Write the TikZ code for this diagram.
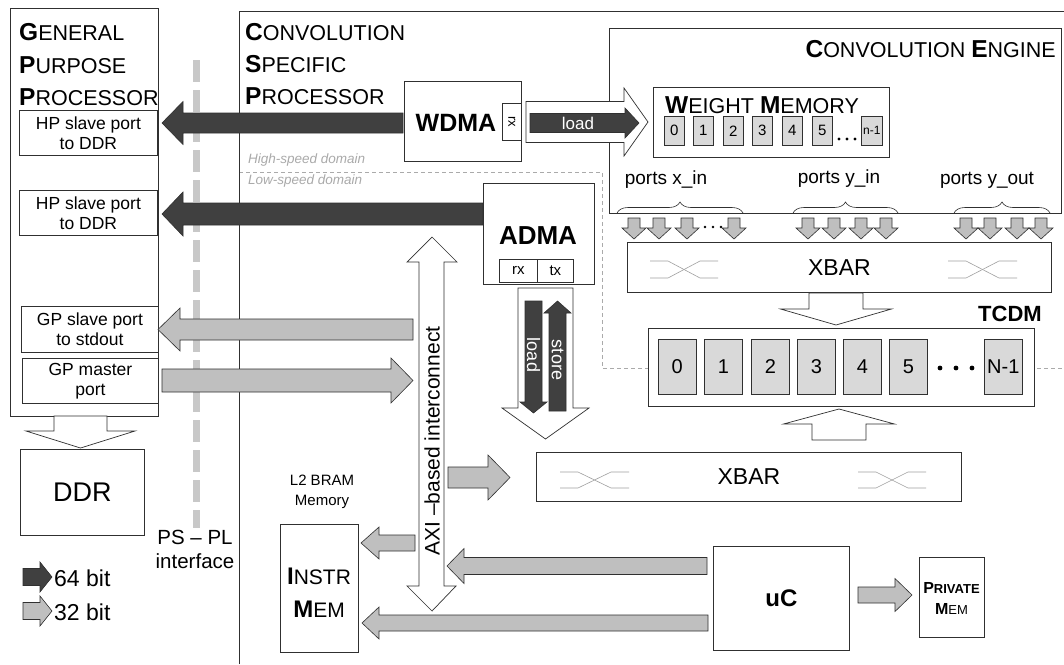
\documentclass[tikz,border=0pt]{standalone}
\usepackage{fontspec}
\setmainfont{Liberation Sans}
\usetikzlibrary{calc,decorations.pathreplacing}
\definecolor{darkf}{HTML}{404040}
\definecolor{lightf}{HTML}{BFBFBF}
\definecolor{cellf}{HTML}{D9D9D9}
\definecolor{edge}{HTML}{303030}
\definecolor{dashc}{HTML}{C8C8C8}
\definecolor{domc}{HTML}{AAAAAA}
\definecolor{crossc}{HTML}{A0A0A0}
\newcommand\fs[2]{\fontsize{#1}{#2}\selectfont}
\newcommand\bsm[4]{{\fs{#3}{#3}\bfseries #1}{\fs{#4}{#4}#2}}
\newcommand\ttl[2]{\bsm{#1}{#2}{24.5}{21.5}}
% block arrow: style, from, to, shaft half width, head half width, head length
\newcommand\blockarrow[6]{%
  \coordinate (hb) at ($(#3)!#6pt!(#2)$);
  \filldraw[#1] ($(#2)!#4pt!90:(#3)$) -- ($(hb)!#4pt!90:(#3)$) -- ($(hb)!#5pt!90:(#3)$) -- (#3)
     -- ($(hb)!#5pt!-90:(#3)$) -- ($(hb)!#4pt!-90:(#3)$) -- ($(#2)!#4pt!-90:(#3)$) -- cycle;}
\newcommand\xcr[4]{%
  \draw[xcross] (#1,#3) -- ++(18,0) -- (#2-18,#4) -- (#2,#4);
  \draw[xcross] (#1,#4) -- ++(18,0) -- (#2-18,#3) -- (#2,#3);}
\tikzset{
  box/.style={draw=edge, line width=0.8pt, fill=white, rectangle, inner sep=0pt, anchor=north west, align=center},
  cell/.style={draw=edge, line width=0.6pt, fill=cellf, rectangle, inner sep=0pt, anchor=north west},
  darkarrow/.style={fill=darkf, draw=edge, line width=0.6pt},
  lightarrow/.style={fill=lightf, draw=edge, line width=0.6pt},
  hollowarrow/.style={fill=white, draw=edge, line width=0.7pt},
  txt/.style={inner sep=0pt, align=center},
  xcross/.style={draw=crossc, line width=0.6pt},
  domline/.style={draw=domc, line width=0.6pt, dash pattern=on 4pt off 3pt},
  domtxt/.style={inner sep=0pt, anchor=west, text=domc, font=\itshape\fs{13.5}{14}},
}
\begin{document}
\begin{tikzpicture}[x=1pt,y=-1pt]
\useasboundingbox (0,0) rectangle (1064,664);
\fill[white] (0,0) rectangle (1064,664);

% PS-PL interface dashed line
\draw[dashc, line width=7pt, dash pattern=on 22pt off 8pt] (196,60) -- (196,528);

% domain dashed line
\draw[domline] (239,172) -- (602,172) -- (602,368) -- (1064,368);
\node[domtxt] (hs) at (248,160) {High-speed domain};
\node[domtxt] (ls) at (248,181) {Low-speed domain};

% Convolution specific processor frame
\draw[draw=edge, line width=0.8pt] (239,664) -- (239,11) -- (1064,11);
\node[txt, anchor=west] (c1) at (245,32) {\ttl{C}{ONVOLUTION}};
\node[txt, anchor=west] (c2) at (245,64) {\ttl{S}{PECIFIC}};
\node[txt, anchor=west] (c3) at (245,96) {\ttl{P}{ROCESSOR}};

% General purpose processor
\node[box, minimum width=148pt, minimum height=408pt] (gpp) at (10,8) {};
\node[txt, anchor=west] (g1) at (19,32) {\ttl{G}{ENERAL}};
\node[txt, anchor=west] (g2) at (19,65) {\ttl{P}{URPOSE}};
\node[txt, anchor=west] (g3) at (19,97) {\ttl{P}{ROCESSOR}};
\node[box, minimum width=138pt, minimum height=45pt, font=\fs{17.5}{20}] (hp1) at (19,110) {HP slave port\\to DDR};
\node[box, minimum width=138pt, minimum height=45pt, font=\fs{17.5}{20}] (hp2) at (19,190) {HP slave port\\to DDR};
\node[box, minimum width=137pt, minimum height=46pt, font=\fs{17.5}{20}] (gps) at (21,306) {GP slave port\\to stdout};
\node[box, minimum width=136pt, minimum height=45pt, font=\fs{17.5}{20}] (gpm) at (22,358) {GP master\\port};
\node[box, minimum width=124pt, minimum height=86pt, font=\fs{27}{27}] (ddr) at (20,449) {DDR};

% PS-PL text and legend
\node[txt, font=\fs{20.5}{24}] (pspl) at (195,549) {PS -- PL\\interface};
\coordinate (l1a) at (23,577); \coordinate (l1b) at (52,577);
\blockarrow{darkarrow}{l1a}{l1b}{8.5}{15}{12}
\coordinate (l2a) at (23,611); \coordinate (l2b) at (52,611);
\blockarrow{lightarrow}{l2a}{l2b}{8.5}{15}{12}
\node[txt, anchor=west, font=\fs{23}{23}] (t64) at (54,578) {64 bit};
\node[txt, anchor=west, font=\fs{23}{23}] (t32) at (54,612) {32 bit};

% Convolution engine
\node[box, minimum width=452pt, minimum height=185pt] (ce) at (609,28) {};
\node[txt, anchor=east] (cet) at (1056,49) {\ttl{C}{ONVOLUTION }\ttl{E}{NGINE}};
\node[box, minimum width=236pt, minimum height=70pt] (wm) at (653,87) {};
\node[txt, anchor=west] (wmt) at (665,105) {\ttl{W}{EIGHT }\ttl{M}{EMORY}};
\foreach \i/\x in {0/664,1/693,2/723,3/752,4/782,5/812}
  \node[cell, minimum width=20pt, minimum height=29pt, font=\fs{15}{15}] (w\i) at (\x,116) {\i};
\node[cell, minimum width=21pt, minimum height=29pt, font=\fs{12}{12}] (wn) at (861,116) {n-1};
\foreach \x in {839,847,855} \fill[black] (\x,139) circle (1.7pt);
\node[txt, font=\fs{19}{19}] (px) at (666,180) {ports x\_in};
\node[txt, font=\fs{19}{19}] (py) at (839,179) {ports y\_in};
\node[txt, font=\fs{19}{19}] (po) at (987,180) {ports y\_out};
\draw[edge, line width=0.6pt, decorate, decoration={brace, amplitude=11pt}] (617,213) -- (743,213);
\draw[edge, line width=0.6pt, decorate, decoration={brace, amplitude=11pt}] (793,213) -- (898,213);
\draw[edge, line width=0.6pt, decorate, decoration={brace, amplitude=11pt}] (954,213) -- (1050,213);

% XBAR top
\node[box, minimum width=424pt, minimum height=50pt, font=\fs{23}{23}] (xb1) at (627,242) {XBAR};
\xcr{650}{718}{261}{278}
\xcr{948}{1017}{261}{278}
\foreach \x in {634,659,687,734,808,834,861,886,966,990,1017,1041} {
  \coordinate (pa) at (\x,218); \coordinate (pb) at (\x,239);
  \blockarrow{lightarrow}{pa}{pb}{6}{12}{11}
}
\foreach \x in {705,713,721} \fill[black] (\x,227) circle (1.4pt);

% TCDM
\node[txt, font=\bfseries\fs{22}{22}] (tcdmt) at (1010,314) {TCDM};
\node[box, minimum width=386pt, minimum height=78pt] (tcdm) at (648,328) {};
\foreach \i/\x in {0/658,1/704,2/751,3/797,4/843,5/889}
  \node[cell, minimum width=38pt, minimum height=55pt, font=\fs{20}{20}] (t\i) at (\x,339) {\i};
\node[cell, minimum width=38pt, minimum height=55pt, font=\fs{20}{20}] (tn) at (984,339) {N-1};
\foreach \x in {940,956,972} \fill[black] (\x,368) circle (2.4pt);
\coordinate (xa) at (836,293); \coordinate (xbb) at (836,325);
\blockarrow{hollowarrow}{xa}{xbb}{27}{55.5}{16}

% XBAR bottom
\node[box, minimum width=425pt, minimum height=49pt, font=\fs{23}{23}] (xb2) at (536,452) {XBAR};
\xcr{560}{629}{472}{488}
\xcr{858}{926}{472}{488}
\coordinate (ua) at (839,440); \coordinate (ub) at (839,409);
\blockarrow{hollowarrow}{ua}{ub}{27}{55.5}{15}

% WDMA
\node[box, minimum width=117pt, minimum height=80pt] (wdma) at (404,81) {};
\node[txt, font=\bfseries\fs{25}{25}] (wdmat) at (456,123) {WDMA};
\node[box, minimum width=19pt, minimum height=37pt] (wrx) at (502,103) {};
\node[txt, rotate=-90, font=\fs{13}{13}] at (wrx.center) {rx};
\coordinate (wha) at (526,122); \coordinate (whb) at (648,122);
\blockarrow{hollowarrow}{wha}{whb}{20.5}{34}{24}
\coordinate (wla) at (530,123); \coordinate (wlb) at (639,123);
\blockarrow{darkarrow}{wla}{wlb}{9.5}{15}{14}
\node[txt, text=white, font=\fs{17}{17}] (wlt) at (578,123) {load};

% ADMA
\node[box, minimum width=111pt, minimum height=101pt] (adma) at (483,183) {};
\node[txt, font=\bfseries\fs{26}{26}] (admat) at (538,236) {ADMA};
\node[box, minimum width=38pt, minimum height=23pt, font=\fs{15}{15}] (arx) at (499,259) {rx};
\node[box, minimum width=36pt, minimum height=23pt, font=\fs{15}{15}] (atx) at (537,259) {tx};
\coordinate (aha) at (545.5,288); \coordinate (ahb) at (545.5,439);
\blockarrow{hollowarrow}{aha}{ahb}{27.5}{43.5}{31}
\coordinate (ala) at (533.5,301); \coordinate (alb) at (533.5,413);
\blockarrow{darkarrow}{ala}{alb}{8.5}{13.5}{11}
\coordinate (asa) at (557.5,411); \coordinate (asb) at (557.5,301);
\blockarrow{darkarrow}{asa}{asb}{8.5}{13.5}{12}
\node[txt, rotate=-90, text=white, font=\fs{18}{18}] (alt) at (533.5,355) {load};
\node[txt, rotate=-90, text=white, font=\fs{18}{18}] (ast) at (557.5,360) {store};

% 64-bit arrows to HP ports
\coordinate (d1a) at (403,123); \coordinate (d1b) at (162,123);
\blockarrow{darkarrow}{d1a}{d1b}{10}{21.5}{21}
\coordinate (d2a) at (483,214); \coordinate (d2b) at (162,214);
\blockarrow{darkarrow}{d2a}{d2b}{11}{22}{21}

% GPP to DDR
\coordinate (gda) at (80.5,416); \coordinate (gdb) at (80.5,448);
\blockarrow{hollowarrow}{gda}{gdb}{26.5}{54.5}{17}

% AXI interconnect
\filldraw[hollowarrow] (432,237) -- (457,262) -- (444,262) -- (444,586) -- (456,586) -- (432,611)
  -- (407,586) -- (419,586) -- (419,262) -- (407,262) -- cycle;
\node[txt, rotate=90, font=\fs{21}{21}] (axit) at (432,441) {AXI --based interconnect};

% 32-bit arrows
\coordinate (s1a) at (413,329.5); \coordinate (s1b) at (158,329.5);
\blockarrow{lightarrow}{s1a}{s1b}{10.5}{21.5}{22}
\coordinate (s2a) at (162,380.5); \coordinate (s2b) at (413,380.5);
\blockarrow{lightarrow}{s2a}{s2b}{11.5}{22.5}{22}
\coordinate (s3a) at (448,477.5); \coordinate (s3b) at (510,477.5);
\blockarrow{lightarrow}{s3a}{s3b}{10.5}{22.5}{22}
\coordinate (s4a) at (415,543); \coordinate (s4b) at (361,543);
\blockarrow{lightarrow}{s4a}{s4b}{8}{16}{18}

% L2 memory
\node[txt, font=\fs{15}{20}] (l2t) at (322,492) {L2 BRAM\\Memory};
\node[box, minimum width=78pt, minimum height=128pt] (instr) at (280,524) {};
\node[txt, font=\fs{21}{33}] (instrt) at (319,593) {\bsm{I}{NSTR}{24}{21}\\\bsm{M}{EM}{24}{21}};

% uC
\node[box, minimum width=136pt, minimum height=104pt, font=\bfseries\fs{24}{24}] (uc) at (713,546) {uC};
\node[box, minimum width=65pt, minimum height=80pt] (priv) at (919,557) {};
\node[txt, font=\fs{13}{21}] (privt) at (951.5,598) {\bfseries\bsm{P}{RIVATE}{16}{13}\\\bsm{M}{EM}{16}{13}};
\coordinate (u1a) at (707,566); \coordinate (u1b) at (447,566);
\blockarrow{lightarrow}{u1a}{u1b}{8.5}{17.5}{17}
\coordinate (u2a) at (708,623); \coordinate (u2b) at (362,623);
\blockarrow{lightarrow}{u2a}{u2b}{8}{16}{17}
\coordinate (u3a) at (858,595); \coordinate (u3b) at (912,595);
\blockarrow{lightarrow}{u3a}{u3b}{8}{16.5}{17}
\end{tikzpicture}
\end{document}
